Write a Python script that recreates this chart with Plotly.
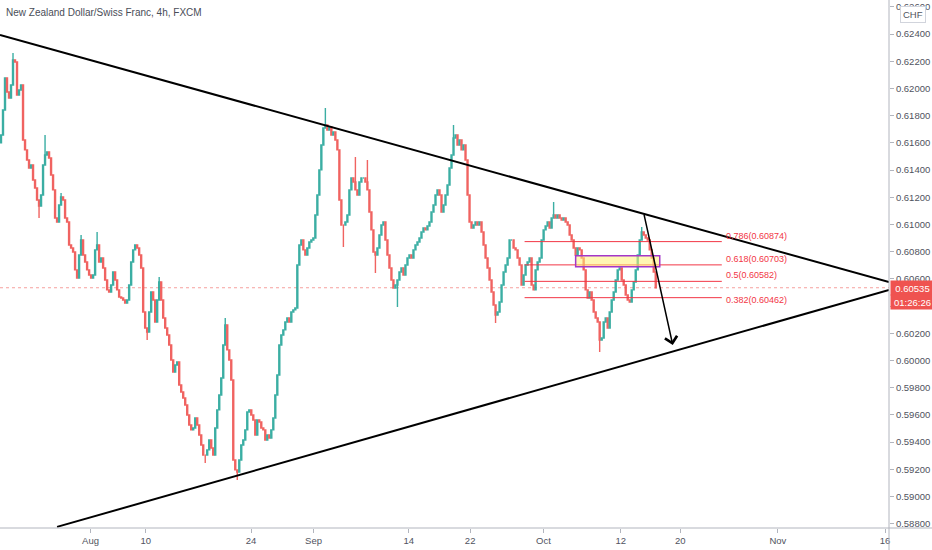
import plotly.graph_objects as go

# ---------------- data ----------------
title_text = "New Zealand Dollar/Swiss Franc, 4h, FXCM"

first_open_pts = 61600
# 4h-ish closes, in 1e-5 price points
close_pts = [
    61658, 61842, 62077, 61974, 61930, 62025, 62209, 62194, 61952, 61989, 62025, 61621, 61548, 61474,
    61415, 61437, 61327, 61268, 61180, 61136, 61217, 61437, 61511, 61533, 61489, 61364, 61254, 61048,
    61018, 61143, 61202, 61180, 61048, 61018, 60849, 60827, 60798, 60666, 60607, 60776, 60886, 60776,
    60724, 60666, 60629, 60607, 60629, 60813, 60849, 60724, 60754, 60680, 60592, 60519, 60504, 60555,
    60651, 60592, 60519, 60467, 60460, 60445, 60423, 60445, 60555, 60724, 60813, 60849, 60827,
    60776, 60680, 60357, 60239, 60210, 60357, 60504, 60445, 60283, 60445, 60577, 60445, 60313, 60239,
    60188, 60114, 60004, 59916, 59967, 59989, 59820, 59769, 59725, 59673, 59600, 59526, 59490, 59504,
    59578, 59526, 59453, 59379, 59306, 59306, 59343, 59416, 59357, 59306, 59504, 59637, 59747, 59872,
    60114, 60261, 60078, 60004, 59857, 59269, 59196, 59181, 59269, 59379, 59416, 59490, 59622, 59637,
    59600, 59563, 59453, 59563, 59548, 59504, 59490, 59416, 59453, 59431,
    59490, 59578, 59747, 59894, 60114, 60188, 60225, 60283, 60313, 60283, 60357, 60372, 60386, 60702,
    60849, 60886, 60813, 60776, 60827, 60871, 60886, 60901, 61070, 61217, 61401, 61584, 61709, 61731,
    61695, 61717, 61658, 61680, 61621, 61548, 61180, 60996, 60996, 61018, 61070, 61254, 61342, 61312,
    61254, 61217, 61312, 61342, 61342, 61312, 61254, 61092, 60960, 60798, 60776, 60827, 60923, 60996,
    61018, 60886, 60776, 60680, 60592, 60533, 60555,
    60592, 60651, 60680, 60629, 60702, 60754, 60776, 60754, 60813, 60849, 60871, 60901, 60945, 60974,
    60960, 60989, 61018, 61092, 61143, 61217, 61254, 61217, 61092, 61143, 61217, 61290, 61415, 61511,
    61636, 61658, 61584, 61621, 61548, 61584, 61474, 61217, 61018, 60974, 60996, 61018, 60996, 61018,
    60945, 60849, 60754, 60680, 60592, 60504, 60408, 60335, 60357, 60430, 60555, 60651, 60702, 60754,
    60886, 60886, 60827, 60813, 60754, 60702, 60555, 60629,
    60702, 60724, 60754, 60555, 60519, 60666, 60724, 60754, 60886, 60960, 60989, 61018, 60974, 61048,
    61070, 61048, 61070, 61048, 61033, 61048, 61018, 60996, 60923, 60886, 60827, 60776, 60827, 60813,
    60754, 60666, 60519, 60460, 60504, 60445, 60357, 60313, 60283, 60151, 60166, 60283, 60313, 60239,
    60357, 60445, 60504, 60592, 60666, 60680, 60592, 60555, 60482, 60445, 60430, 60519, 60577, 60666,
    60776, 60886, 60945, 60923, 60901, 60886, 60813, 60754, 60651, 60535,
]
# notable wick extremes (bar index -> price points)
wick_high_pts = {6: 62260, 22: 61658, 30: 61232, 40: 60923, 48: 60945, 79: 60614, 112: 60313,
                 162: 61856, 177: 61496, 183: 61474, 226: 61731, 276: 61165, 320: 60981}
wick_low_pts = {19: 61048, 73: 60151, 102: 59247, 118: 59122, 171: 60835, 187: 60643,
                198: 60393, 247: 60276, 299: 60063}

date_tick_pos = [44.7, 72.3, 124.9, 156.1, 203.7, 234.3, 270.9, 309.5, 339.2, 388.0, 441.5]
date_tick_labels = ["Aug", "10", "24", "Sep", "14", "22", "Oct", "12", "20", "Nov", "16"]

x_range = [-0.5, 443.5]
price_range = [0.58769, 0.62650]

upper_trend = [(-0.5, 0.62393), (443.5, 0.60577)]
lower_trend = [(28.0, 0.58777), (443.5, 0.60519)]
arrow_tail = (321.0, 0.61084)
arrow_head = (335.5, 0.60114)

fib_x = [261.5, 360.0]
fib_label_x = 361.0
fib_ratios = ["0.786", "0.618", "0.5", "0.382"]
fib_levels = [0.60874, 0.60703, 0.60582, 0.60462]

zone_x = [287.0, 329.0]
zone_price = [0.60690, 0.60771]

last_price = 0.60535
countdown = "01:26:26"
currency = "CHF"

# ---------------- build candles ----------------
closes = [c / 1e5 for c in close_pts]
opens = [first_open_pts / 1e5] + closes[:-1]
highs = [max(o, c) for o, c in zip(opens, closes)]
lows = [min(o, c) for o, c in zip(opens, closes)]
for i, v in wick_high_pts.items():
    highs[i] = max(highs[i], v / 1e5)
for i, v in wick_low_pts.items():
    lows[i] = min(lows[i], v / 1e5)
xs = list(range(len(closes)))

UP = "#26a69a"
DN = "#ef5350"
FIB = "#f23645"
FONT = "Liberation Sans, Arial, sans-serif"
AX = "#50535e"

fig = go.Figure()
fig.add_trace(go.Candlestick(
    x=xs, open=opens, high=highs, low=lows, close=closes,
    increasing=dict(line=dict(color=UP, width=1.4), fillcolor=UP),
    decreasing=dict(line=dict(color=DN, width=1.4), fillcolor=DN),
    whiskerwidth=0, showlegend=False, hoverinfo="skip", opacity=0.9,
))

shapes = []
# current price dotted line
shapes.append(dict(type="line", xref="paper", yref="y", x0=0, x1=1, y0=last_price, y1=last_price,
                   line=dict(color="rgba(239,83,80,0.55)", width=1, dash="dot"), layer="below"))
# fib levels
for lv in fib_levels:
    shapes.append(dict(type="line", xref="x", yref="y", x0=fib_x[0], x1=fib_x[1], y0=lv, y1=lv,
                       line=dict(color=FIB, width=1)))
# yellow zone
shapes.append(dict(type="rect", xref="x", yref="y", x0=zone_x[0], x1=zone_x[1],
                   y0=zone_price[0], y1=zone_price[1],
                   fillcolor="rgba(255,241,118,0.55)", line=dict(color="#a336c9", width=1.5)))
# trendlines
for (a, b) in (upper_trend, lower_trend):
    shapes.append(dict(type="line", xref="x", yref="y", x0=a[0], y0=a[1], x1=b[0], y1=b[1],
                       line=dict(color="#000000", width=2)))
# axis frame lines extending like TradingView
shapes.append(dict(type="line", xref="paper", yref="paper", x0=1, x1=1, y0=-0.05, y1=1,
                   line=dict(color="#b2b5be", width=1)))
shapes.append(dict(type="line", xref="paper", yref="paper", x0=0, x1=1.06, y0=0, y1=0,
                   line=dict(color="#b2b5be", width=1)))

annotations = []
annotations.append(dict(xref="paper", yref="paper", x=0, y=1, xanchor="left", yanchor="top",
                        xshift=4, yshift=-5, text=title_text, showarrow=False,
                        font=dict(family=FONT, size=10, color="#4a4d57")))
for r, lv in zip(fib_ratios, fib_levels):
    below = r == "0.382"
    annotations.append(dict(xref="x", yref="y", x=fib_label_x, y=lv, xanchor="left",
                            yanchor="middle" if below else "bottom", yshift=-2 if below else -1,
                            text=f"{r}({lv:.5f})", showarrow=False,
                            font=dict(family=FONT, size=9, color=FIB)))
annotations.append(dict(xref="x", yref="y", axref="x", ayref="y",
                        x=arrow_head[0], y=arrow_head[1], ax=arrow_tail[0], ay=arrow_tail[1],
                        showarrow=True, arrowhead=4, arrowsize=1.6, arrowwidth=1.5,
                        arrowcolor="#000000", text=""))
annotations.append(dict(xref="paper", yref="y", x=1, y=last_price, xanchor="left", yanchor="middle",
                        text=f"{last_price:.5f}", showarrow=False, bgcolor=DN,
                        width=41, height=12, align="center",
                        font=dict(family=FONT, size=9.5, color="#ffffff"), xshift=1))
annotations.append(dict(xref="paper", yref="y", x=1, y=last_price, xanchor="left", yanchor="middle",
                        text=countdown, showarrow=False, bgcolor=DN, yshift=-14,
                        width=41, height=12, align="center",
                        font=dict(family=FONT, size=9.5, color="#ffffff"), xshift=1))
annotations.append(dict(xref="paper", yref="paper", x=1, y=1, xanchor="left", yanchor="top",
                        xshift=11, yshift=-6, text=currency, showarrow=False,
                        bgcolor="#ffffff", bordercolor="#d1d4dc", borderwidth=1, borderpad=2,
                        font=dict(family=FONT, size=9.5, color=AX)))

fig.update_layout(
    width=932, height=550,
    margin=dict(l=0, r=43, t=0, b=22),
    paper_bgcolor="#ffffff", plot_bgcolor="#ffffff",
    shapes=shapes, annotations=annotations,
    showlegend=False,
    xaxis=dict(range=x_range, rangeslider=dict(visible=False), showgrid=False, zeroline=False,
               tickmode="array", tickvals=date_tick_pos, ticktext=date_tick_labels,
               ticks="outside", ticklen=4, tickcolor="#b2b5be", showline=False,
               tickfont=dict(family=FONT, size=9.5, color=AX)),
    yaxis=dict(range=price_range, side="right", showgrid=False, zeroline=False,
               tick0=0.588, dtick=0.002, tickformat=".5f",
               ticks="outside", ticklen=4, tickcolor="#b2b5be", showline=False,
               tickfont=dict(family=FONT, size=9.5, color=AX)),
)

fig.write_html(
    "out.html",
    config={"displayModeBar": False},
    post_script="document.body.style.margin='0';document.body.style.padding='0';"
                "document.body.style.overflow='hidden';",
)
